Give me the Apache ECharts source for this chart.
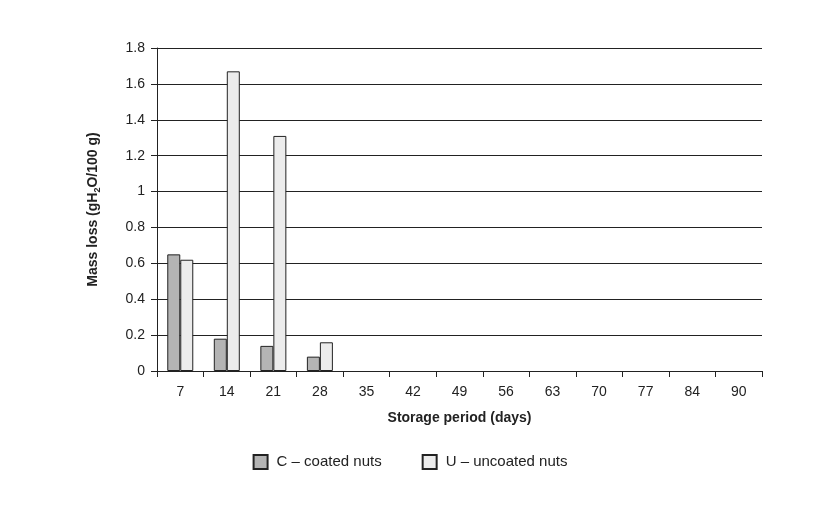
<!DOCTYPE html>
<html><head><meta charset="utf-8">
<script src="https://cdn.jsdelivr.net/npm/echarts@6/dist/echarts.min.js"></script>
<style>html,body{margin:0;background:#fff}#c{width:820px;height:515px}</style>
</head><body><div id="c"></div>
<script>
const days = ['7','14','21','28','35','42','49','56','63','70','77','84','90'];
const coated = [0.65, 0.18, 0.14, 0.08, null, null, null, null, null, null, null, null, null];
const uncoated = [0.62, 1.67, 1.31, 0.16, null, null, null, null, null, null, null, null, null];

const chart = echarts.init(document.getElementById('c'));
const font = 'Arial, "Liberation Sans", sans-serif';
chart.setOption({
  backgroundColor: '#fff',
  animation: false,
  grid: { left: 157, right: 58, top: 48, bottom: 144 },
  xAxis: {
    type: 'category', data: days,
    name: 'Storage period (days)', nameLocation: 'middle', nameGap: 40,
    nameTextStyle: { fontFamily: font, fontSize: 14, fontWeight: 'bold', color: '#222' },
    axisLine: { lineStyle: { color: '#222' } },
    axisTick: { show: true, length: 6, lineStyle: { color: '#222' } },
    axisLabel: { fontFamily: font, fontSize: 14, color: '#222', margin: 14 }
  },
  yAxis: {
    type: 'value', min: 0, max: 1.8, interval: 0.2,
    name: 'Mass loss (gH{s|2}O/100 g)', nameLocation: 'middle', nameGap: 55,
    nameTextStyle: { fontFamily: font, fontSize: 14, fontWeight: 'bold', color: '#222',
      rich: { s: { fontSize: 9, fontWeight: 'bold', verticalAlign: 'bottom', padding: [8,0,0,0] } } },
    axisLine: { show: true, lineStyle: { color: '#222' } },
    axisTick: { show: true, length: 6, lineStyle: { color: '#222' } },
    axisLabel: { fontFamily: font, fontSize: 14, color: '#222', margin: 12,
      formatter: v => String(Math.round(v * 10) / 10) },
    splitLine: { lineStyle: { color: '#222', width: 1.2 } }
  },
  legend: {
    bottom: 40, left: 'center', itemGap: 40, itemWidth: 14, itemHeight: 14, icon: 'rect',
    textStyle: { fontFamily: font, fontSize: 15, color: '#222', padding: [0, 0, 0, 4] },
    data: ['C – coated nuts', 'U – uncoated nuts']
  },
  series: [
    { name: 'C – coated nuts', type: 'bar', data: coated, barWidth: 13, barGap: '0%',
      itemStyle: { color: '#b4b4b4', borderColor: '#222', borderWidth: 1 } },
    { name: 'U – uncoated nuts', type: 'bar', data: uncoated, barWidth: 13,
      itemStyle: { color: '#ececec', borderColor: '#222', borderWidth: 1 } }
  ]
});
</script></body></html>
